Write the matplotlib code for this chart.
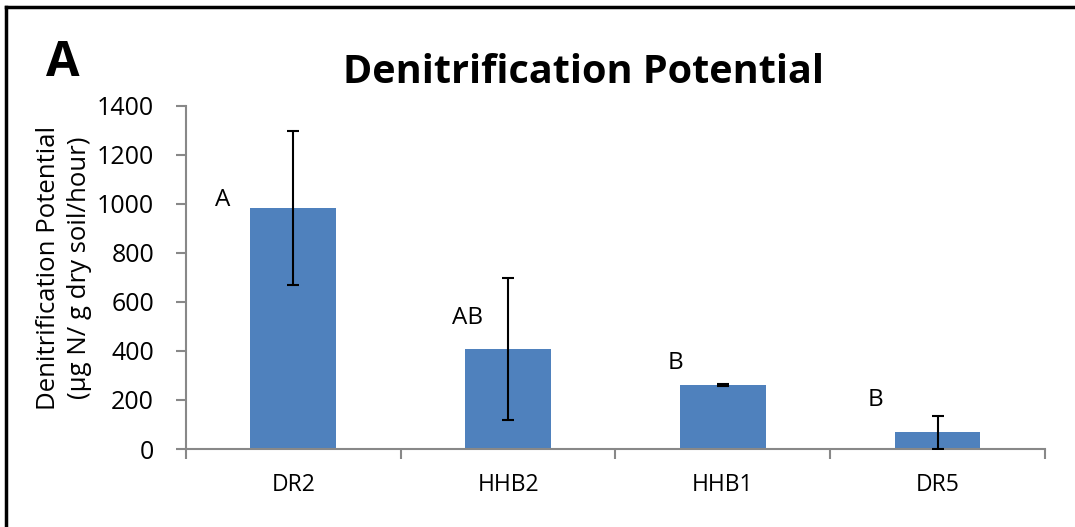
import matplotlib
matplotlib.use("Agg")
import matplotlib.pyplot as plt
from matplotlib.lines import Line2D

plt.rcParams['font.family'] = ['Open Sans', 'DejaVu Sans']

categories = ["DR2", "HHB2", "HHB1", "DR5"]
values = [984, 408, 261, 69]
errors = [314, 290, 3, 67]
letters = ["A", "AB", "B", "B"]
letter_x_offset = [-0.33, -0.19, -0.22, -0.29]
letter_y = [1016, 535, 351, 200]
yticks = [0, 200, 400, 600, 800, 1000, 1200, 1400]

fig = plt.figure(figsize=(10.75, 5.27), dpi=100)
ax = fig.add_axes([0.173, 0.148, 0.799, 0.651])

x = list(range(len(categories)))
ax.bar(x, values, width=0.4, color="#4F81BD", zorder=2)
ax.errorbar(x, values, yerr=errors, fmt="none", ecolor="black",
            elinewidth=1.5, capsize=4, capthick=1.5, zorder=3)

for i, (lab, dx, ly) in enumerate(zip(letters, letter_x_offset, letter_y)):
    ax.text(i + dx, ly, lab, ha="center", va="center", fontsize=17.5)

ax.set_xlim(-0.5, len(categories) - 0.5)
ax.set_ylim(0, 1400)
ax.set_yticks(yticks)
ax.set_yticklabels([str(v) for v in yticks], fontsize=18)

ax.set_xticks(x)
ax.set_xticklabels(categories, fontsize=16.5)
ax.tick_params(axis="x", length=0, pad=17)
ax.set_xticks([i - 0.5 for i in range(len(categories) + 1)], minor=True)
ax.tick_params(axis="x", which="minor", length=7, color="#888888", width=1.5, direction="out")
ax.tick_params(axis="y", length=7, color="#888888", width=1.5, direction="out", pad=16)

for s in ["top", "right"]:
    ax.spines[s].set_visible(False)
for s in ["left", "bottom"]:
    ax.spines[s].set_color("#888888")
    ax.spines[s].set_linewidth(1.5)

ax.set_ylabel("Denitrification Potential\n(µg N/ g dry soil/hour)", fontsize=18.5, linespacing=1.35)
ax.yaxis.set_label_coords(-0.109, 0.528)

fig.text(0.5424, 0.863, "Denitrification Potential", ha="center", va="center",
         fontsize=28.5, fontweight="bold")
fig.text(0.058, 0.880, "A", ha="center", va="center", fontsize=35, fontweight="bold")

# frame lines (top and left)
fig.add_artist(Line2D([0.0056, 1.0], [0.987, 0.987], color="black", lw=2.5, transform=fig.transFigure))
fig.add_artist(Line2D([0.0056, 0.0056], [0.0, 0.987], color="black", lw=2.5, transform=fig.transFigure))

fig.savefig("out.png", dpi=100)
